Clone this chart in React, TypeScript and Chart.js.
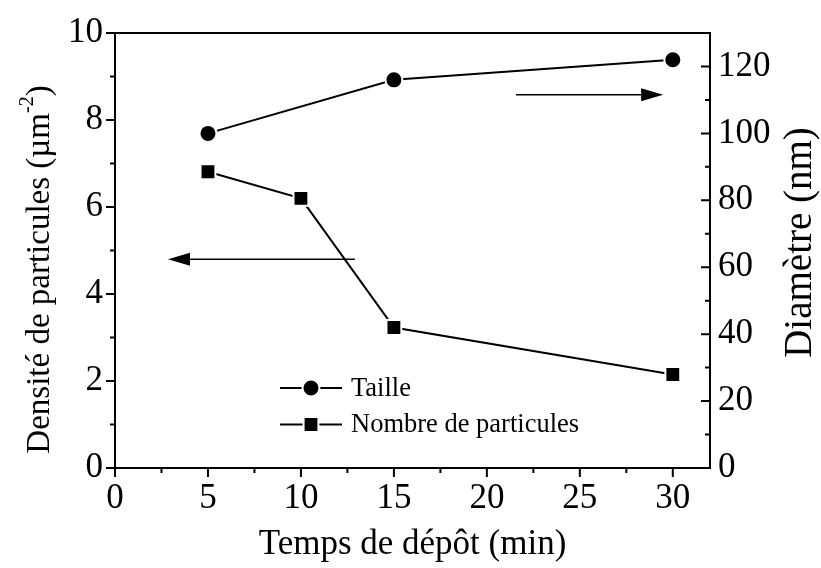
import React, { useEffect, useRef } from "react";
import { Chart, registerables } from "chart.js";

Chart.register(...registerables);

// ---------- data ----------
const tailleTime = [5, 15, 30];
const tailleDiameter = [100, 116, 122]; // nm, right axis
const nombreTime = [5, 10, 15, 30];
const nombreDensity = [6.81, 6.2, 3.23, 2.15]; // µm^-2, left axis

const seriesLabels = ["Taille", "Nombre de particules"];

const xTickValues = [0, 5, 10, 15, 20, 25, 30];
const leftTickValues = [0, 2, 4, 6, 8, 10];
const rightTickValues = [0, 20, 40, 60, 80, 100, 120];

// arrows, in (time, left-axis) units
const arrowFromX = [12.9, 21.57];
const arrowToX = [2.85, 29.48];
const arrowAtY = [4.8, 8.58];

const xTitle = "Temps de dépôt (min)";
const leftTitleParts = ["Densité de particules (µm", "-2", ")"];
const rightTitleParts = ["Diamètre (nm)"];

// ---------- style ----------
const FAMILY = '"Liberation Serif", "Times New Roman", Times, serif';
const TICK_SIZE = 35;
const TITLE_SIZE = 35;
const LEFT_TITLE_SIZE = 33;
const RIGHT_TITLE_SIZE = 39;
const LEGEND_SIZE = 26.5;

function minorsOf(vals: number[], min: number, max: number) {
  const out: number[] = [];
  for (let i = 0; i < vals.length; i++) {
    const step = i < vals.length - 1 ? vals[i + 1] - vals[i] : vals[i] - vals[i - 1];
    const m = vals[i] + step / 2;
    if (m > min && m < max) out.push(m);
  }
  return out;
}

function drawMarker(ctx: CanvasRenderingContext2D, style: string, x: number, y: number) {
  ctx.save();
  ctx.fillStyle = "#000";
  ctx.strokeStyle = "#fff";
  ctx.lineWidth = 2;
  ctx.beginPath();
  if (style === "circle") {
    ctx.arc(x, y, 8.5, 0, Math.PI * 2);
  } else {
    const h = 7.4;
    ctx.rect(x - h, y - h, 2 * h, 2 * h);
  }
  ctx.fill();
  ctx.stroke();
  ctx.restore();
}

function drawVerticalTitle(
  ctx: CanvasRenderingContext2D,
  parts: string[],
  size: number,
  cx: number,
  cy: number
) {
  ctx.save();
  ctx.translate(cx, cy);
  ctx.rotate(-Math.PI / 2);
  ctx.fillStyle = "#000";
  ctx.textBaseline = "middle";
  ctx.textAlign = "left";
  const big = `${size}px ${FAMILY}`;
  const small = `${Math.round(size * 0.6)}px ${FAMILY}`;
  const widths = parts.map((p, i) => {
    ctx.font = i % 2 === 1 ? small : big;
    return ctx.measureText(p).width;
  });
  const total = widths.reduce((a, b) => a + b, 0);
  let x = -total / 2;
  parts.forEach((p, i) => {
    const sup = i % 2 === 1;
    ctx.font = sup ? small : big;
    ctx.fillText(p, x, sup ? -size * 0.38 : 0);
    x += widths[i];
  });
  ctx.restore();
}

const framePlugin = {
  id: "frameTicks",
  beforeDatasetsDraw(chart: any) {
    const { ctx, chartArea } = chart;
    const { left, right, top, bottom } = chartArea;
    const sx = chart.scales.x;
    const sy = chart.scales.y;
    const sy1 = chart.scales.y1;
    ctx.save();
    ctx.strokeStyle = "#000";
    ctx.lineWidth = 2;
    ctx.strokeRect(left, top, right - left, bottom - top);
    const MAJ = 9;
    const MIN = 5;
    ctx.beginPath();
    // left axis, outward
    leftTickValues.forEach((v) => {
      const p = sy.getPixelForValue(v);
      ctx.moveTo(left - MAJ, p);
      ctx.lineTo(left, p);
    });
    minorsOf(leftTickValues, 0, 10).forEach((v) => {
      const p = sy.getPixelForValue(v);
      ctx.moveTo(left - MIN, p);
      ctx.lineTo(left, p);
    });
    // right axis, inward
    rightTickValues.forEach((v) => {
      const p = sy1.getPixelForValue(v);
      ctx.moveTo(right - MAJ, p);
      ctx.lineTo(right, p);
    });
    minorsOf(rightTickValues, 0, 130).forEach((v) => {
      const p = sy1.getPixelForValue(v);
      ctx.moveTo(right - MIN, p);
      ctx.lineTo(right, p);
    });
    // bottom axis, outward
    xTickValues.forEach((v) => {
      const p = sx.getPixelForValue(v);
      ctx.moveTo(p, bottom);
      ctx.lineTo(p, bottom + MAJ);
    });
    minorsOf(xTickValues, 0, 32).forEach((v) => {
      const p = sx.getPixelForValue(v);
      ctx.moveTo(p, bottom);
      ctx.lineTo(p, bottom + MIN);
    });
    ctx.stroke();

    // arrows
    ctx.fillStyle = "#000";
    ctx.lineWidth = 1.6;
    for (let i = 0; i < arrowFromX.length; i++) {
      const x1 = sx.getPixelForValue(arrowFromX[i]);
      const x2 = sx.getPixelForValue(arrowToX[i]);
      const y = sy.getPixelForValue(arrowAtY[i]);
      const dir = Math.sign(x2 - x1);
      const HL = 22;
      const HW = 6.5;
      ctx.beginPath();
      ctx.moveTo(x1, y);
      ctx.lineTo(x2 - dir * HL, y);
      ctx.stroke();
      ctx.beginPath();
      ctx.moveTo(x2, y);
      ctx.lineTo(x2 - dir * HL, y - HW);
      ctx.lineTo(x2 - dir * HL, y + HW);
      ctx.closePath();
      ctx.fill();
    }
    ctx.restore();
  },
  afterDraw(chart: any) {
    const { ctx, chartArea } = chart;
    const { left, right, top, bottom } = chartArea;
    // legend
    ctx.save();
    chart.data.datasets.forEach((ds: any, i: number) => {
      const x0 = left + 165;
      const y = top + 355 + i * 36.5;
      ctx.strokeStyle = "#000";
      ctx.lineWidth = 2;
      ctx.beginPath();
      ctx.moveTo(x0, y);
      ctx.lineTo(x0 + 62, y);
      ctx.stroke();
      drawMarker(ctx, ds.pointStyle, x0 + 31, y);
      ctx.fillStyle = "#000";
      ctx.font = `${LEGEND_SIZE}px ${FAMILY}`;
      ctx.textBaseline = "middle";
      ctx.textAlign = "left";
      ctx.fillText(ds.label, x0 + 71, y + 1);
    });
    ctx.restore();

    const mid = (top + bottom) / 2;
    drawVerticalTitle(ctx, leftTitleParts, LEFT_TITLE_SIZE, left - 75, mid + 19);
    drawVerticalTitle(ctx, rightTitleParts, RIGHT_TITLE_SIZE, right + 91, mid - 8);
  },
};

export default function App() {
  const ref = useRef<HTMLCanvasElement | null>(null);
  useEffect(() => {
    if (!ref.current) return;
    const tickFont = { family: FAMILY, size: TICK_SIZE };
    const titleFont = { family: FAMILY, size: TITLE_SIZE };
    const chart = new Chart(ref.current, {
      type: "line",
      data: {
        datasets: [
          {
            label: seriesLabels[0],
            data: tailleTime.map((t, i) => ({ x: t, y: tailleDiameter[i] })),
            yAxisID: "y1",
            borderColor: "#000",
            borderWidth: 2,
            pointStyle: "circle",
            pointRadius: 8.5,
            pointBackgroundColor: "#000",
            pointBorderColor: "#fff",
            pointBorderWidth: 2,
            tension: 0,
          },
          {
            label: seriesLabels[1],
            data: nombreTime.map((t, i) => ({ x: t, y: nombreDensity[i] })),
            yAxisID: "y",
            borderColor: "#000",
            borderWidth: 2,
            pointStyle: "rect",
            pointRadius: 10.5,
            pointBackgroundColor: "#000",
            pointBorderColor: "#fff",
            pointBorderWidth: 2,
            tension: 0,
          },
        ],
      },
      options: {
        responsive: false,
        animation: false,
        devicePixelRatio: 1,
        layout: { padding: { top: 30, left: 0, right: 0, bottom: 0 } },
        plugins: { legend: { display: false }, tooltip: { enabled: false } },
        scales: {
          x: {
            type: "linear",
            position: "bottom",
            min: 0,
            max: 32,
            afterBuildTicks: (s: any) => {
              s.ticks = xTickValues.map((v) => ({ value: v }));
            },
            afterFit: (s: any) => {
              s.height = 100;
            },
            ticks: { font: tickFont, color: "#000", padding: 10, maxRotation: 0 },
            grid: { display: false, drawTicks: false },
            border: { display: false },
            title: {
              display: true,
              text: xTitle,
              font: titleFont,
              color: "#000",
              padding: { top: 0, bottom: 2 },
            },
          },
          y: {
            type: "linear",
            position: "left",
            min: 0,
            max: 10,
            afterBuildTicks: (s: any) => {
              s.ticks = leftTickValues.map((v) => ({ value: v }));
            },
            afterFit: (s: any) => {
              s.width = 115;
            },
            ticks: { font: tickFont, color: "#000", padding: 12 },
            grid: { display: false, drawTicks: false },
            border: { display: false },
          },
          y1: {
            type: "linear",
            position: "right",
            min: 0,
            max: 130,
            afterBuildTicks: (s: any) => {
              s.ticks = rightTickValues.map((v) => ({ value: v }));
            },
            afterFit: (s: any) => {
              s.width = 111;
            },
            ticks: { font: tickFont, color: "#000", padding: 8 },
            grid: { display: false, drawTicks: false },
            border: { display: false },
          },
        },
      },
      plugins: [framePlugin],
    } as any);
    return () => chart.destroy();
  }, []);
  return (
    <div style={{ position: "fixed", left: 0, top: 0, width: 821, height: 568, background: "#fff" }}>
      <canvas ref={ref} width={821} height={568} style={{ display: "block", width: 821, height: 568 }} />
    </div>
  );
}
